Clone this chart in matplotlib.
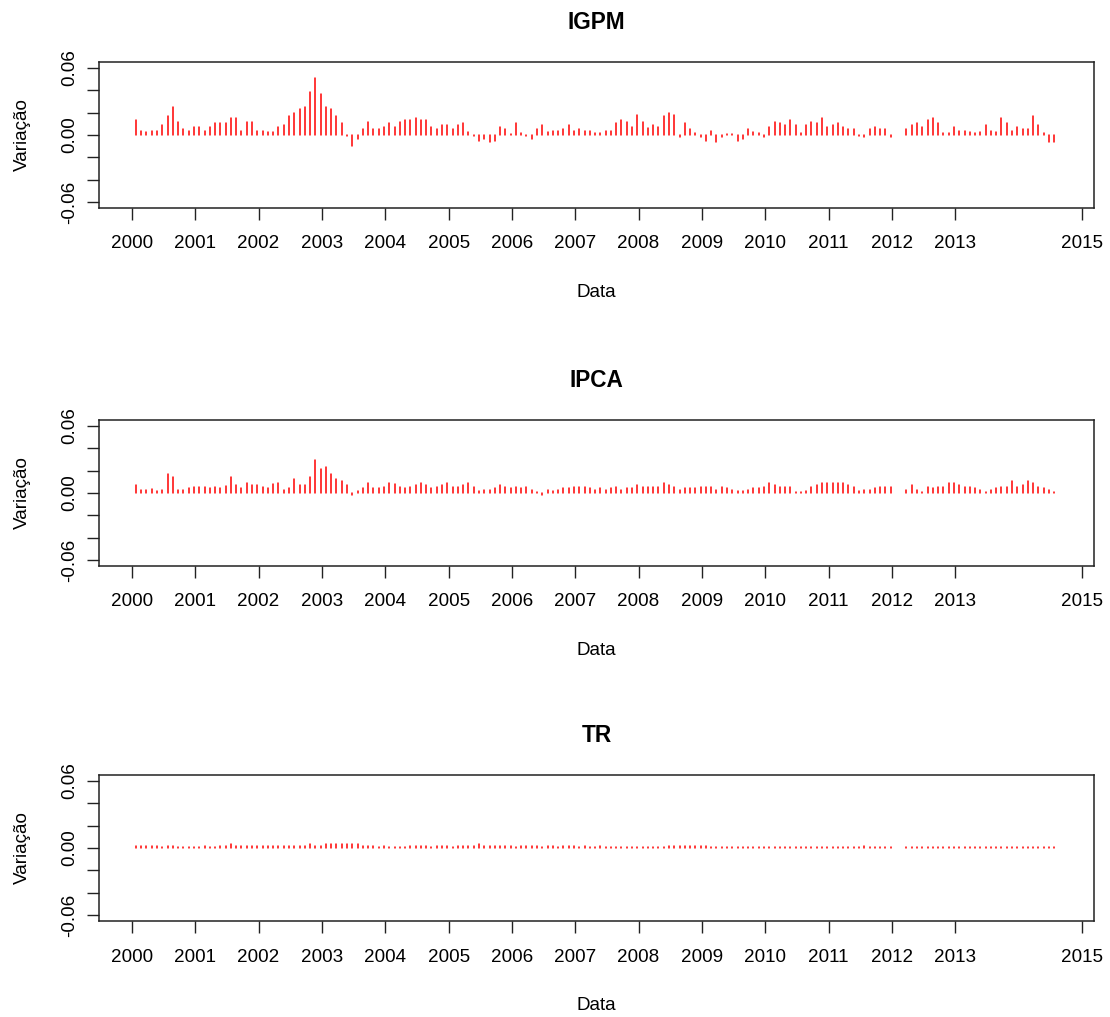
import numpy as np
import pandas as pd
import matplotlib.pyplot as plt

plt.rcParams['font.family'] = ['Liberation Sans', 'DejaVu Sans']

# variação mensal, jan/2000 a jul/2014 (jan e fev/2012 sem dado)
meses = pd.period_range('2000-01', '2014-07', freq='M')
nan = np.nan

igpm = [
    0.0136, 0.004, 0.0026, 0.004, 0.004, 0.009, 0.0168, 0.0246, 0.012, 0.0055, 0.004, 0.0075,
    0.0075, 0.004, 0.0075, 0.0104, 0.0104, 0.0104, 0.0154, 0.0154, 0.004, 0.012, 0.012, 0.004,
    0.004, 0.0026, 0.0026, 0.0075, 0.009, 0.0168, 0.0197, 0.023, 0.0246, 0.0386, 0.051, 0.037,
    0.0246, 0.023, 0.0168, 0.0104, -0.001, -0.0099, -0.0035, 0.0055, 0.012, 0.0055, 0.0055, 0.0075,
    0.0104, 0.0075, 0.012, 0.0136, 0.0136, 0.0154, 0.0136, 0.0136, 0.0075, 0.0055, 0.009, 0.009,
    0.0055, 0.009, 0.0104, 0.0026, -0.001, -0.005, -0.0035, -0.0067, -0.005, 0.0075, 0.0055, 0.001,
    0.0104, 0.0015, -0.001, -0.0035, 0.0055, 0.009, 0.0026, 0.004, 0.004, 0.0055, 0.009, 0.004,
    0.0055, 0.004, 0.004, 0.0015, 0.0015, 0.004, 0.004, 0.0104, 0.0136, 0.012, 0.0075, 0.018,
    0.012, 0.006, 0.009, 0.0075, 0.0168, 0.0197, 0.018, -0.002, 0.0104, 0.0055, 0.0015, -0.002,
    -0.005, 0.004, -0.0067, -0.002, 0.0005, 0.0005, -0.005, -0.0035, 0.0055, 0.0026, 0.0015, -0.002,
    0.0075, 0.012, 0.0104, 0.009, 0.0136, 0.009, 0.0015, 0.009, 0.012, 0.0104, 0.0154, 0.0075,
    0.009, 0.0104, 0.0075, 0.0055, 0.0055, -0.001, -0.002, 0.0055, 0.0075, 0.0055, 0.0055, -0.002,
    nan, nan, 0.0055, 0.009, 0.0104, 0.0075, 0.0136, 0.0154, 0.0104, 0.0015, 0.0015, 0.0075,
    0.004, 0.004, 0.0026, 0.0015, 0.0026, 0.009, 0.004, 0.0026, 0.0154, 0.0104, 0.004, 0.0075,
    0.0055, 0.0055, 0.0168, 0.009, 0.0015, -0.0067, -0.0067,
]

ipca = [
    0.0075, 0.0023, 0.003, 0.0038, 0.0015, 0.003, 0.0168, 0.014, 0.003, 0.003, 0.0046, 0.0058,
    0.0058, 0.0058, 0.0046, 0.0058, 0.0046, 0.006, 0.014, 0.0075, 0.0046, 0.0087, 0.0075, 0.0075,
    0.0058, 0.0046, 0.008, 0.009, 0.003, 0.0046, 0.0125, 0.0075, 0.0075, 0.014, 0.0293, 0.0217,
    0.023, 0.0168, 0.0125, 0.011, 0.0075, -0.002, 0.0015, 0.0043, 0.009, 0.0043, 0.0043, 0.0058,
    0.009, 0.008, 0.0058, 0.0046, 0.0058, 0.0075, 0.009, 0.0075, 0.0046, 0.0058, 0.0075, 0.009,
    0.0058, 0.0058, 0.0075, 0.009, 0.0058, 0.0015, 0.0023, 0.0023, 0.0043, 0.0075, 0.0058, 0.0046,
    0.0058, 0.0046, 0.0058, 0.003, 0.001, -0.0015, 0.0023, 0.0015, 0.003, 0.0043, 0.0046, 0.0058,
    0.0058, 0.0058, 0.0043, 0.003, 0.0043, 0.0023, 0.0043, 0.0058, 0.0023, 0.0043, 0.0043, 0.0072,
    0.0058, 0.0058, 0.0058, 0.0058, 0.0087, 0.0075, 0.0058, 0.003, 0.0046, 0.0046, 0.0046, 0.0058,
    0.0058, 0.0058, 0.003, 0.0058, 0.0046, 0.0023, 0.0015, 0.0015, 0.0023, 0.0043, 0.0046, 0.0058,
    0.0087, 0.0075, 0.0058, 0.0058, 0.0058, 0.001, 0.001, 0.0015, 0.0058, 0.0075, 0.0087, 0.0087,
    0.0087, 0.0087, 0.0087, 0.0075, 0.0058, 0.0015, 0.0023, 0.0023, 0.0046, 0.0058, 0.0058, 0.0058,
    nan, nan, 0.003, 0.0075, 0.003, 0.001, 0.0058, 0.0046, 0.0058, 0.0058, 0.0087, 0.0087,
    0.0075, 0.0058, 0.0058, 0.0046, 0.003, 0.001, 0.0023, 0.0046, 0.0058, 0.0058, 0.0104, 0.0058,
    0.0075, 0.011, 0.0087, 0.0058, 0.0046, 0.0023, 0.001,
]

tr = [
    0.0022, 0.0022, 0.0022, 0.0022, 0.0022, 0.0007, 0.0022, 0.0022, 0.0007, 0.0007, 0.0007, 0.0007,
    0.0007, 0.0022, 0.0007, 0.0007, 0.0022, 0.0022, 0.0032, 0.0022, 0.0022, 0.0022, 0.0022, 0.0022,
    0.0022, 0.0022, 0.0022, 0.0022, 0.0022, 0.0022, 0.0022, 0.0022, 0.0022, 0.0032, 0.0022, 0.0022,
    0.0032, 0.0032, 0.0032, 0.0032, 0.0032, 0.0038, 0.0032, 0.0022, 0.0022, 0.0022, 0.0007, 0.0022,
    0.0007, 0.0007, 0.0007, 0.0007, 0.0022, 0.0022, 0.0022, 0.0022, 0.0007, 0.0022, 0.0022, 0.0022,
    0.0007, 0.0022, 0.0022, 0.0022, 0.0022, 0.0032, 0.0022, 0.0022, 0.0022, 0.0022, 0.0022, 0.0022,
    0.0007, 0.0022, 0.0022, 0.0022, 0.0022, 0.0007, 0.0022, 0.0022, 0.0007, 0.0022, 0.0022, 0.0022,
    0.0007, 0.0022, 0.0007, 0.0007, 0.0022, 0.0007, 0.0007, 0.0007, 0.0007, 0.0007, 0.0007, 0.0007,
    0.0007, 0.0007, 0.0007, 0.0007, 0.0007, 0.0022, 0.0022, 0.0022, 0.0022, 0.0022, 0.0022, 0.0022,
    0.0022, 0.0006, 0.0006, 0.0006, 0.0006, 0.0006, 0.0006, 0.0006, 0.0006, 0.0006, 0.0006, 0.0006,
    0.0006, 0.0006, 0.0006, 0.0006, 0.0006, 0.0006, 0.0006, 0.0006, 0.0006, 0.0006, 0.0006, 0.0006,
    0.0006, 0.0006, 0.0006, 0.0006, 0.0006, 0.0006, 0.0022, 0.0006, 0.0006, 0.0006, 0.0006, 0.0006,
    nan, nan, 0.0005, 0.0005, 0.0005, 0.0005, 0.0005, 0.0005, 0.0005, 0.0005, 0.0005, 0.0005,
    0.0005, 0.0005, 0.0005, 0.0005, 0.0005, 0.0005, 0.0005, 0.0005, 0.0005, 0.0005, 0.0005, 0.0005,
    0.0005, 0.0005, 0.0005, 0.0005, 0.0005, 0.0005, 0.0005,
]

series = [('IGPM', igpm), ('IPCA', ipca), ('TR', tr)]

anos = list(range(2000, 2014)) + [2015]
yticks = [-0.06, -0.04, -0.02, 0.0, 0.02, 0.04, 0.06]
ylabels = ['-0.06', '', '', '0.00', '', '', '0.06']

# posição de cada mês como ano decimal
x = meses.year + (meses.month - 0.25) / 12

W, H = 1110, 1017
fig = plt.figure(figsize=(W / 100, H / 100), dpi=100)

tops = [62, 420, 775]
for (nome, vals), top in zip(series, tops):
    ax = fig.add_axes([99 / W, 1 - (top + 146) / H, 995 / W, 146 / H])
    # linhas verticais tipo "h", pontas arredondadas
    ax.vlines(x, 0, np.array(vals), colors='red', lw=1.1, capstyle='round')
    ax.set_xlim(1999.48, 2015.19)
    ax.set_ylim(-0.0653, 0.0653)
    ax.set_xticks(anos)
    ax.set_xticklabels([str(a) for a in anos])
    ax.set_yticks(yticks)
    ax.set_yticklabels(ylabels, rotation=90, va='center')
    ax.tick_params(axis='both', length=8.8, width=1.0, labelsize=13.6, color='#222222')
    ax.tick_params(axis='x', pad=11)
    ax.tick_params(axis='y', pad=6)
    for s in ax.spines.values():
        s.set_linewidth(1.1)
        s.set_color('#222222')
    ax.set_title(nome, fontsize=16.3, fontweight='bold', pad=24)
    ax.set_xlabel('Data', fontsize=13.6)
    ax.set_ylabel('Variação', fontsize=13.6)
    ax.xaxis.set_label_coords(0.5, -0.52)
    ax.yaxis.set_label_coords(-0.068, 0.5)

fig.savefig('out.png', dpi=100)
